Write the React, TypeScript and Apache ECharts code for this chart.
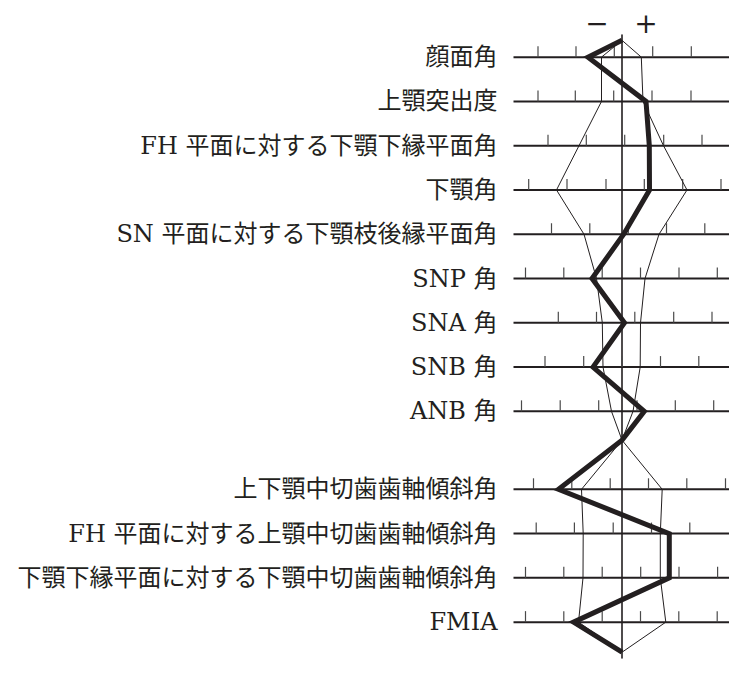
import React, { useEffect, useRef } from 'react';
import * as echarts from 'echarts';

// 項目名
const rowLabels = [
  '顔面角',
  '上顎突出度',
  'FH 平面に対する下顎下縁平面角',
  '下顎角',
  'SN 平面に対する下顎枝後縁平面角',
  'SNP 角',
  'SNA 角',
  'SNB 角',
  'ANB 角',
  '上下顎中切歯歯軸傾斜角',
  'FH 平面に対する上顎中切歯歯軸傾斜角',
  '下顎下縁平面に対する下顎中切歯歯軸傾斜角',
  'FMIA',
];

// 患者の値（太線）
const patientValues = [-34, 24, 27.3, 27.5, 1.7, -30, 2.5, -29, 22.3, -63.5, 47.3, 47.3, -48.5];
// 標準範囲（細線）
const normLow = [-20.5, -20.5, -43, -65.5, -38, -25.5, -19.7, -19, -10.5, -40.5, -38.8, -39, -43.5];
const normHigh = [19.3, 21, 41.5, 65, 37, 23, 18.5, 18.2, 11, 40.2, 38.3, 38.3, 43.8];

// 各項目の目盛り位置
const rowTicks = [
  [-84, -46, -7.7, 30.7, 69.3],
  [-84, -46.7, -8.3, 30, 69],
  [-74, -35.7, 2.7, 41.7, 80],
  [-93.3, -55, -16, 22.3, 60.7, 99],
  [-70.5, -32.2, 6.3, 44.5, 82.8],
  [-96.5, -58.2, -19.8, 18.5, 57, 95.3],
  [-63.7, -25.5, 12.8, 51.7, 90],
  [-77, -38.3, 0, 38.5, 76.8],
  [-100.5, -61.8, -23.3, 15, 53.3, 91.7],
  [-88.5, -50.2, -11.8, 26.5, 64.8, 103.5],
  [-85.8, -47.6, -8.8, 29.5, 67.8],
  [-96.5, -58.2, -19.8, 18.7, 57, 95.6],
  [-96.5, -58.2, -19.8, 18.5, 56.8, 95.2],
];

// レイアウト
const GROUP_SPLIT = 9;
const GROUP_GAP = 0.76;
const START_POS = -0.38;
const MID_POS = 8.65;
const END_POS = 13.44;
const LINE_MIN = -108.5;
const LINE_MAX = 107;

const rowPos = (i: number) => i + (i >= GROUP_SPLIT ? GROUP_GAP : 0);

const buildPath = (values: number[]) => {
  const pts: number[][] = [[0, START_POS]];
  values.forEach((v, i) => {
    if (i === GROUP_SPLIT) pts.push([0, MID_POS]);
    pts.push([v, rowPos(i)]);
  });
  pts.push([0, END_POS]);
  return pts;
};

const INK = '#231f20';
const FONT = "'DejaVu Serif', 'Noto Sans CJK JP', serif";

const App: React.FC = () => {
  const chartRef = useRef<HTMLDivElement>(null);

  useEffect(() => {
    if (!chartRef.current) return;
    const chart = echarts.init(chartRef.current, undefined, { renderer: 'svg' });

    const option: any = {
      animation: false,
      backgroundColor: '#ffffff',
      grid: { left: 512, width: 220, top: 35, height: 623 },
      xAxis: {
        type: 'value',
        min: -110,
        max: 110,
        axisLine: { show: false, onZero: false },
        axisTick: { show: false },
        axisLabel: { show: false },
        splitLine: { show: false },
      },
      yAxis: {
        type: 'value',
        inverse: true,
        min: -0.5,
        max: 13.57,
        axisLine: { show: true, onZero: true, lineStyle: { color: INK, width: 1.6 } },
        axisTick: { show: false },
        axisLabel: { show: false },
        splitLine: { show: false },
      },
      graphic: [
        {
          type: 'text',
          x: 597,
          y: 23,
          style: { text: '−', fontSize: 28, fontFamily: "'DejaVu Serif', serif", fill: INK, align: 'center', verticalAlign: 'middle' },
        },
        {
          type: 'text',
          x: 646,
          y: 23,
          style: { text: '+', fontSize: 28, fontFamily: "'DejaVu Serif', serif", fill: INK, align: 'center', verticalAlign: 'middle' },
        },
      ],
      series: [
        {
          type: 'custom',
          clip: false,
          z: 1,
          data: rowLabels.map((_, i) => [0, rowPos(i), i]),
          encode: { x: 0, y: 1 },
          renderItem: (_params: any, api: any) => {
            const pos = api.value(1);
            const idx = api.value(2);
            const l = api.coord([LINE_MIN, pos]);
            const r = api.coord([LINE_MAX, pos]);
            const children: any[] = [
              {
                type: 'line',
                shape: { x1: l[0], y1: l[1], x2: r[0], y2: r[1] },
                style: { stroke: INK, lineWidth: 2 },
              },
            ];
            rowTicks[idx].forEach((t) => {
              const p = api.coord([t, pos]);
              children.push({
                type: 'line',
                shape: { x1: p[0], y1: p[1] - 11, x2: p[0], y2: p[1] },
                style: { stroke: '#4a4a4a', lineWidth: 1.2 },
              });
            });
            children.push({
              type: 'text',
              x: l[0] - 16,
              y: l[1],
              style: {
                text: rowLabels[idx],
                fontSize: 24,
                fontFamily: FONT,
                fill: INK,
                align: 'right',
                verticalAlign: 'middle',
              },
            });
            return { type: 'group', children };
          },
        },
        {
          type: 'line',
          data: buildPath(normLow),
          symbol: 'none',
          clip: false,
          z: 3,
          lineStyle: { color: INK, width: 1 },
        },
        {
          type: 'line',
          data: buildPath(normHigh),
          symbol: 'none',
          clip: false,
          z: 3,
          lineStyle: { color: INK, width: 1 },
        },
        {
          type: 'line',
          data: buildPath(patientValues),
          symbol: 'none',
          clip: false,
          z: 4,
          lineStyle: { color: INK, width: 5, join: 'miter', cap: 'butt' },
        },
      ],
    };

    chart.setOption(option);
    return () => {
      chart.dispose();
    };
  }, []);

  return (
    <div
      ref={chartRef}
      style={{ position: 'absolute', left: 0, top: 0, width: 742, height: 673 }}
    />
  );
};

export default App;
